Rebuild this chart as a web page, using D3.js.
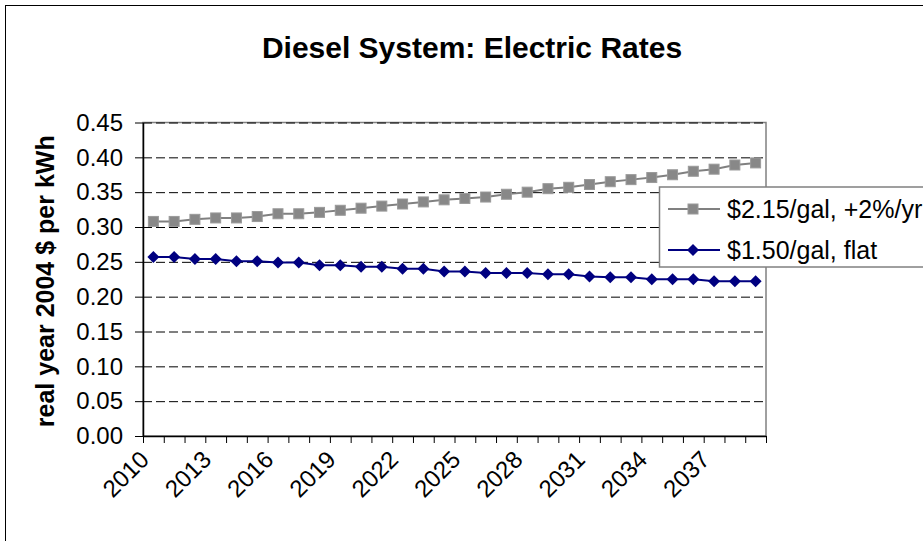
<!DOCTYPE html>
<html>
<head>
<meta charset="utf-8">
<script src="https://cdn.jsdelivr.net/npm/d3@7"></script>
<style>
    body { margin: 0; background: #fff; }
    text { font-family: "Liberation Sans", Arial, sans-serif; }
</style>
</head>
<body>
<div id="chart"></div>
<script>
// categories and series
const years = [2010, 2011, 2012, 2013, 2014, 2015, 2016, 2017, 2018, 2019,
               2020, 2021, 2022, 2023, 2024, 2025, 2026, 2027, 2028, 2029,
               2030, 2031, 2032, 2033, 2034, 2035, 2036, 2037, 2038, 2039];
const xLabelYears = [2010, 2013, 2016, 2019, 2022, 2025, 2028, 2031, 2034, 2037];
const yTicks = [0, 0.05, 0.10, 0.15, 0.20, 0.25, 0.30, 0.35, 0.40, 0.45];

const risingRates = [0.308, 0.308, 0.311, 0.313, 0.313, 0.315, 0.319, 0.319, 0.321, 0.324,
                     0.327, 0.330, 0.333, 0.336, 0.339, 0.341, 0.343, 0.347, 0.350, 0.355,
                     0.357, 0.361, 0.365, 0.368, 0.371, 0.375, 0.380, 0.383, 0.389, 0.392];
const flatRates = [0.257, 0.257, 0.254, 0.254, 0.251, 0.251, 0.249, 0.249, 0.245, 0.245,
                   0.243, 0.243, 0.240, 0.240, 0.236, 0.236, 0.234, 0.234, 0.234, 0.232,
                   0.232, 0.229, 0.228, 0.228, 0.225, 0.225, 0.225, 0.222, 0.222, 0.222];

const seriesNames = ["$2.15/gal, +2%/yr", "$1.50/gal, flat"];

const width = 923, height = 541;
const plot = {left: 143, right: 766, top: 122.5, bottom: 436};

let svg = d3.select("#chart")
    .append("svg")
    .attr("width", width)
    .attr("height", height);

// outer chart frame (runs past the picture on the right and bottom)
svg.append("rect")
    .attr("x", 5.5).attr("y", 5.5)
    .attr("width", 1000).attr("height", 600)
    .attr("fill", "#fff")
    .attr("stroke", "#000")
    .attr("stroke-width", 1);

let x = d3.scaleBand().domain(years).range([plot.left, plot.right]);
let xEdge = d3.scaleLinear().domain([0, years.length]).range([plot.left, plot.right]);
let y = d3.scaleLinear().domain([0, 0.45]).range([plot.bottom, plot.top]);

// plot area border
svg.append("rect")
    .attr("x", plot.left).attr("y", plot.top)
    .attr("width", plot.right - plot.left)
    .attr("height", plot.bottom - plot.top)
    .attr("fill", "none")
    .attr("stroke", "#808080")
    .attr("stroke-width", 1.5);

// dashed gridlines
svg.append("g")
    .attr("transform", `translate(${plot.left},0)`)
    .call(d3.axisLeft(y)
        .tickValues(yTicks.filter(d => d > 0))
        .tickSize(-(plot.right - plot.left))
        .tickFormat(""))
    .call(g => g.select(".domain").remove())
    .selectAll("line")
    .attr("stroke", "#000")
    .attr("stroke-dasharray", "9,4");

// y axis
let yAxis = svg.append("g")
    .attr("transform", `translate(${plot.left},0)`)
    .call(d3.axisLeft(y)
        .tickValues(yTicks)
        .tickFormat(d3.format(".2f"))
        .tickSize(8)
        .tickSizeOuter(0)
        .tickPadding(12));
yAxis.select(".domain").attr("stroke", "#000").attr("stroke-width", 1.5);
yAxis.selectAll("line").attr("stroke", "#000");
yAxis.selectAll("text")
    .attr("font-size", 24)
    .attr("fill", "#000")
    .style("font-family", "'Liberation Sans', Arial, sans-serif");

// x axis: ticks between categories
let xAxis = svg.append("g")
    .attr("transform", `translate(0,${plot.bottom})`)
    .call(d3.axisBottom(xEdge)
        .tickValues(d3.range(years.length + 1))
        .tickFormat("")
        .tickSize(7)
        .tickSizeOuter(0));
xAxis.select(".domain").attr("stroke", "#000").attr("stroke-width", 1.5);
xAxis.selectAll("line").attr("stroke", "#000");

svg.append("g")
    .selectAll("text")
    .data(xLabelYears)
    .enter()
    .append("text")
    .attr("transform", d => `translate(${x(d) + x.bandwidth() / 2 - 3},${plot.bottom + 25}) rotate(-45)`)
    .attr("text-anchor", "end")
    .attr("font-size", 24)
    .attr("fill", "#000")
    .text(d => d);

// titles
svg.append("text")
    .attr("x", 472).attr("y", 58)
    .attr("text-anchor", "middle")
    .attr("font-size", 30)
    .attr("font-weight", "bold")
    .text("Diesel System: Electric Rates");

svg.append("text")
    .attr("transform", `translate(54,${(plot.top + plot.bottom) / 2 + 2}) rotate(-90)`)
    .attr("text-anchor", "middle")
    .attr("font-size", 25)
    .attr("font-weight", "bold")
    .text("real year 2004 $ per kWh");

// series
let line = d3.line()
    .x((d, i) => x(years[i]) + x.bandwidth() / 2)
    .y(d => y(d));

svg.append("path")
    .datum(risingRates)
    .attr("d", line)
    .attr("fill", "none")
    .attr("stroke", "#808080")
    .attr("stroke-width", 2);

svg.append("path")
    .datum(flatRates)
    .attr("d", line)
    .attr("fill", "none")
    .attr("stroke", "#000080")
    .attr("stroke-width", 2);

function drawSquare(g, cx, cy) {
    g.append("rect")
        .attr("x", cx - 5).attr("y", cy - 5)
        .attr("width", 10).attr("height", 10)
        .attr("fill", "#888888")
        .attr("stroke", "#9a9a9a")
        .attr("stroke-width", 1);
}

function drawDiamond(g, cx, cy) {
    g.append("path")
        .attr("d", `M${cx},${cy - 6}L${cx + 6},${cy}L${cx},${cy + 6}L${cx - 6},${cy}Z`)
        .attr("fill", "#000080");
}

let squares = svg.append("g");
risingRates.forEach((d, i) => drawSquare(squares, x(years[i]) + x.bandwidth() / 2, y(d)));

let diamonds = svg.append("g");
flatRates.forEach((d, i) => drawDiamond(diamonds, x(years[i]) + x.bandwidth() / 2, y(d)));

// legend
let legend = svg.append("g");
legend.append("rect")
    .attr("x", 659.5).attr("y", 187)
    .attr("width", 320).attr("height", 80)
    .attr("fill", "#fff")
    .attr("stroke", "#808080")
    .attr("stroke-width", 1.5);

let legendRows = [
    {name: seriesNames[0], color: "#808080", y: 209, marker: drawSquare},
    {name: seriesNames[1], color: "#000080", y: 250, marker: drawDiamond}
];

legendRows.forEach(r => {
    legend.append("line")
        .attr("x1", 668).attr("x2", 720)
        .attr("y1", r.y).attr("y2", r.y)
        .attr("stroke", r.color)
        .attr("stroke-width", 2);
    r.marker(legend, 693, r.y);
    legend.append("text")
        .attr("x", 727).attr("y", r.y + 9)
        .attr("font-size", 25)
        .attr("fill", "#000")
        .text(r.name);
});
</script>
</body>
</html>
